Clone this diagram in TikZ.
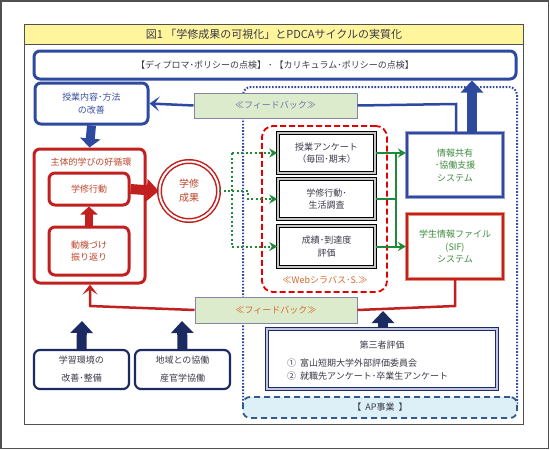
\documentclass[tikz,border=0pt]{standalone}
\usepackage{fontspec}
\setmainfont{Noto Sans CJK JP}
\usetikzlibrary{arrows.meta}
\definecolor{tblue}{HTML}{2E4A9E}
\definecolor{navy}{HTML}{1C2A62}
\definecolor{tred}{HTML}{C2201E}
\definecolor{tgreen}{HTML}{1F8A3A}
\definecolor{titley}{HTML}{FFF59C}
\definecolor{fbfill}{HTML}{DCEBCC}
\definecolor{fbdraw}{HTML}{8585A5}
\definecolor{lav}{HTML}{9A9ED2}
\definecolor{salmon}{HTML}{E8907A}
\definecolor{apfill}{HTML}{DDEFF7}
\definecolor{apdraw}{HTML}{2F5A8A}
\definecolor{txtdark}{HTML}{3A3A4A}
\definecolor{txtblue}{HTML}{3A4FA0}
\definecolor{txtred}{HTML}{C0442A}
\definecolor{txtorange}{HTML}{D8682A}
\definecolor{txtgreen}{HTML}{3C8A3C}
\definecolor{txtfb}{HTML}{6A78A8}
\definecolor{framegray}{HTML}{505050}
\begin{document}
\begin{tikzpicture}[x=1pt,y=-1pt,
  bx/.style={rectangle, inner sep=0pt, align=center, font=\fontsize{9}{12.5}\selectfont},
  bluebox/.style={bx, draw=tblue, line width=3pt, rounded corners=6pt, text=txtblue},
  redbox/.style={bx, draw=tred, line width=3pt, rounded corners=6pt, text=txtred},
  fbbox/.style={bx, draw=fbdraw, fill=fbfill, line width=1pt},
  blackbox/.style={bx, draw=black, double=gray!45, double distance=1.2pt, line width=1.4pt, text=txtdark},
  navybox/.style={bx, draw=navy, line width=2.2pt, rounded corners=6pt, text=txtdark, font=\fontsize{9}{18}\selectfont},
  bigarrow/.style={line width=10pt, -{Triangle[length=12pt,width=22pt]}},
  gdot/.style={tgreen, line width=2pt, dash pattern=on 2pt off 2.5pt, -{Stealth[length=8pt,width=9pt]}},
  gline/.style={tgreen, line width=2pt}
]
\useasboundingbox (0,0) rectangle (550,450);
% frames
\draw[line width=1.2pt, framegray] (1,1) rectangle (548.5,448.5);
\fill[titley] (24.5,24.5) rectangle (523.5,44.5);
\draw[line width=0.8pt, framegray] (24.5,44.5) -- (523.5,44.5);
\draw[line width=1pt, framegray] (24.5,24.5) rectangle (523.5,424.5);
\node[bx, font=\fontsize{11}{13}\selectfont, text=txtdark] (title) at (274,34.5) {図1\ 「学修成果の可視化」とPDCAサイクルの実質化};

% dotted blue region
\draw[tblue, line width=2pt, dash pattern=on 1.6pt off 1.6pt, rounded corners=8pt] (243,87) rectangle (517,412);

% top box
\node[bluebox, text=txtdark, minimum width=482pt, minimum height=28pt] (top) at (275,65) {【ディプロマ･ポリシーの点検】\ ･\ 【カリキュラム･ポリシーの点検】};

% left upper
\node[bluebox, minimum width=113pt, minimum height=41pt] (jugyo) at (91.5,103.5) {授業内容･方法\\の改善};
\node[fbbox, text=txtfb, minimum width=163pt, minimum height=25pt] (fb1) at (275.5,105.5) {≪フィードバック≫};

% info & sif
\node[bx, draw=lav, line width=4pt, minimum width=96pt, minimum height=64pt] (infoback) at (455,165) {};
\node[bx, draw=tblue, line width=2pt, text=txtgreen, minimum width=96pt, minimum height=64pt] (info) at (455,165) {情報共有\\･協働支援\\システム};
\node[bx, draw=salmon, line width=4pt, minimum width=96pt, minimum height=65pt] (sifback) at (455,246.5) {};
\node[bx, draw=tred, line width=2pt, text=txtgreen, minimum width=96pt, minimum height=65pt] (sif) at (455,246.5) {学生情報ファイル\\(SIF)\\システム};

% web syllabus
\node[bx, draw=red!90!black, line width=1.8pt, dash pattern=on 6pt off 3pt, rounded corners=11pt, minimum width=125pt, minimum height=166pt] (web) at (324.5,209) {};
\node[blackbox, minimum width=97pt, minimum height=40pt] (b1) at (326.5,153) {授業アンケート\\（毎回･期末）};
\node[blackbox, minimum width=97pt, minimum height=40pt] (b2) at (326.5,199) {学修行動･\\生活調査};
\node[blackbox, minimum width=97pt, minimum height=41pt] (b3) at (326.5,246.5) {成績･到達度\\評価};
\node[bx, text=txtorange] (weblabel) at (325,279.5) {≪Webシラバス･S.≫};

% shutai
\node[redbox, minimum width=111pt, minimum height=134pt] (shutai) at (89.5,216) {};
\node[bx, text=txtred] (shutailabel) at (91,162) {主体的学びの好循環};
\node[redbox, minimum width=80pt, minimum height=32pt] (koudou) at (89,189) {学修行動};
\node[redbox, minimum width=80pt, minimum height=48pt] (douki) at (89,251) {動機づけ\\振り返り};
\node[bx, circle, draw=tred, double=white, double distance=2pt, line width=1.5pt, minimum size=59pt, text=txtred, font=\fontsize{10}{14}\selectfont] (seika) at (189,191) {学修\\成果};

% bottom
\node[fbbox, text=txtorange, minimum width=162pt, minimum height=26pt] (fb2) at (276,310) {≪フィードバック≫};
\node[navybox, minimum width=95pt, minimum height=39pt] (env) at (81.5,369.5) {学習環境の\\改善･整備};
\node[navybox, minimum width=95pt, minimum height=39pt] (area) at (182.5,369.5) {地域との協働\\産官学協働};
\node[bx, draw=navy, double=lav!60, double distance=1.6pt, line width=1.6pt, minimum width=230pt, minimum height=60pt] (third) at (382,359) {};
\node[bx, text=txtdark] (thirdtitle) at (382,345) {第三者評価};
\node[bx, text=txtdark, align=left, anchor=west, font=\fontsize{9}{13}\selectfont] (thirdlist) at (287,369.5) {①\ \ 富山短期大学外部評価委員会\\②\ \ 就職先アンケート･卒業生アンケート};
\node[bx, draw=apdraw, fill=apfill, line width=1.8pt, dash pattern=on 6pt off 4pt, rounded corners=7pt, minimum width=274pt, minimum height=21pt, text=txtdark] (ap) at (380,407.5) {【\ \ AP事業\ \ 】};

% coordinates
\coordinate (infotop) at (456,133);
\coordinate (bluecorner) at (456,104);
\coordinate (thick) at (472,132);
\coordinate (redcorner) at (455,306);
\coordinate (redleft) at (90,306);
\coordinate (envtip) at (82,321);
\coordinate (areatip) at (182,321);
\coordinate (thirdtip) at (383,311);
\coordinate (gsplit) at (232,191);
\coordinate (gmid) at (248,191);
\coordinate (bus) at (396,153);

% blue connectors
\draw[tblue, line width=2.5pt] (infotop) -- (bluecorner) -- (fb1.east);
\draw[tblue, line width=2.5pt, -{Stealth[length=10pt,width=15pt,inset=5pt]}] (fb1.west) -- (jugyo.east);
\draw[tblue, bigarrow] (thick) -- (thick |- top.south);
\draw[tblue, line width=9pt, -{Triangle[length=9pt,width=20pt]}] (jugyo.south) -- (shutai.north);

% red connectors
\draw[tred, line width=2.5pt] (sif.south) -- (redcorner) -- (fb2.east);
\draw[tred, line width=2.5pt, -{Stealth[length=10pt,width=15pt,inset=5pt]}] (fb2.west) -- (redleft) -- (shutai.south -| redleft);
\draw[tred, line width=8pt, -{Triangle[length=8pt,width=17pt]}] (douki.north) -- (koudou.south);
\draw[tred, line width=10pt, -{Triangle[length=12pt,width=22pt]}] (koudou.east) -- (seika.west);

% navy arrows
\draw[navy, bigarrow] (env.north) -- (envtip);
\draw[navy, bigarrow] (area.north) -- (areatip);
\draw[navy, bigarrow] (third.north -| thirdtip) -- (thirdtip);

% green dotted
\draw[tgreen, line width=2pt, dash pattern=on 2pt off 2.5pt] (seika.east) -- (gsplit);
\draw[tgreen, line width=2pt, dash pattern=on 2pt off 2.5pt] (gsplit |- b1.west) -- (gsplit |- b3.west);
\draw[gdot] (gsplit |- b1.west) -- (b1.west);
\draw[gdot] (gsplit |- b3.west) -- (b3.west);
\draw[gdot] (gsplit) -- (gmid) |- (b2.west);

% green solid
\draw[gline] (b1.east) -- (bus);
\draw[gline] (b2.east) -- (b2.east -| bus);
\draw[gline] (b3.east) -- (b3.east -| bus);
\draw[gline] (bus) -- (b3.east -| bus);
\draw[gline, -{Stealth[length=8pt,width=9pt]}] (bus) -- (b1.east -| info.west);
\draw[gline, -{Stealth[length=8pt,width=9pt]}] (b3.east -| bus) -- (b3.east -| sif.west);
\end{tikzpicture}
\end{document}
